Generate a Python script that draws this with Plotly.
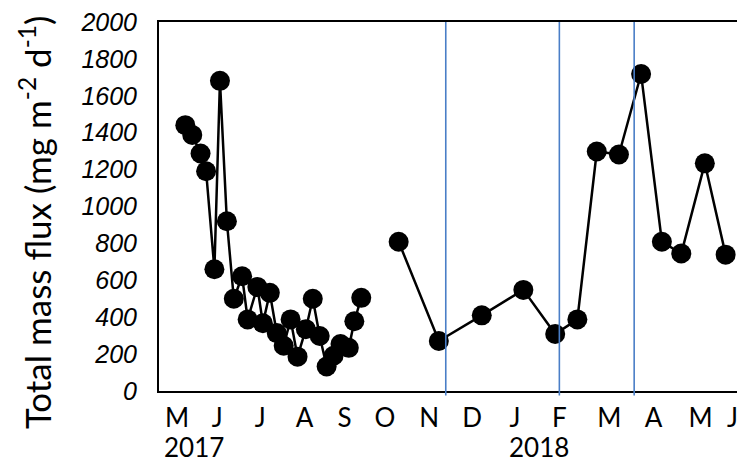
import plotly.graph_objects as go

# --- data ---
dates_2017 = ["2017-05-07", "2017-05-12", "2017-05-18", "2017-05-22", "2017-05-28",
              "2017-06-01", "2017-06-06", "2017-06-11", "2017-06-17", "2017-06-21",
              "2017-06-28", "2017-07-02", "2017-07-07", "2017-07-12", "2017-07-17",
              "2017-07-22", "2017-07-27", "2017-08-02", "2017-08-07", "2017-08-12",
              "2017-08-17", "2017-08-22", "2017-08-27", "2017-09-02", "2017-09-06",
              "2017-09-11"]
flux_2017 = [1441, 1388, 1287, 1191, 660,
             1681, 920, 500, 622, 388,
             564, 367, 532, 314, 245,
             388, 186, 335, 500, 298,
             133, 191, 255, 234, 378,
             505]

dates_1718 = ["2017-10-08", "2017-11-06", "2017-12-07", "2018-01-06", "2018-01-29",
              "2018-02-14", "2018-02-28", "2018-03-16", "2018-04-01", "2018-04-16",
              "2018-04-30", "2018-05-17", "2018-06-01"]
flux_1718 = [809, 271, 410, 548, 309,
             388, 1298, 1282, 1718, 809,
             745, 1234, 739]

month_tick_dates = ["2017-05-01", "2017-05-30", "2017-06-30", "2017-08-01", "2017-08-30",
                    "2017-09-28", "2017-10-30", "2017-11-30", "2017-12-31", "2018-02-01",
                    "2018-03-09", "2018-04-10", "2018-05-14", "2018-06-06"]
month_labels = ["M", "J", "J", "A", "S", "O", "N", "D", "J", "F", "M", "A", "M", "J"]

year_labels = ["2017", "2018"]
year_label_dates = ["2017-05-13", "2018-01-17"]

event_dates = ["2017-11-11", "2018-02-01", "2018-03-27"]

y_ticks = list(range(0, 2001, 200))

fig = go.Figure()

for xs, ys in [(dates_2017, flux_2017), (dates_1718, flux_1718)]:
    fig.add_trace(go.Scatter(
        x=xs, y=ys, mode="lines+markers",
        line=dict(color="black", width=2.5),
        marker=dict(color="black", size=20, line=dict(width=0)),
        showlegend=False, cliponaxis=False,
    ))

for d in event_dates:
    fig.add_shape(type="line", xref="x", yref="paper", x0=d, x1=d, y0=-0.012, y1=1,
                  line=dict(color="#4A7EC7", width=1.6), layer="above")

for lab, d in zip(year_labels, year_label_dates):
    fig.add_annotation(text=lab, x=d, xref="x", y=-0.152, yref="paper",
                       showarrow=False, xanchor="center", yanchor="middle",
                       font=dict(family="Lato, Carlito, sans-serif", size=26, color="black"))

fig.add_annotation(text="Total mass flux (mg m<sup>-2</sup> d<sup>-1</sup>)",
                   x=0, xref="paper", xshift=-124, y=0.455, yref="paper",
                   textangle=-90, showarrow=False, xanchor="center", yanchor="middle",
                   font=dict(family="Lato, Carlito, sans-serif", size=35, color="black"))

# page body has an 8px margin, so the figure is sized/offset to compensate
fig.update_layout(
    width=737, height=457,
    margin=dict(l=151, r=0, t=7, b=74),
    plot_bgcolor="white", paper_bgcolor="white",
    xaxis=dict(
        type="date", range=["2017-04-18", "2018-06-15"],
        tickmode="array", tickvals=month_tick_dates, ticktext=month_labels,
        showgrid=False, zeroline=False, showline=True, linecolor="black",
        linewidth=2, mirror=True, ticks="", ticklabelstandoff=3,
        ticklabeloverflow="allow",
        tickfont=dict(family="Lato, Carlito, sans-serif", size=26, color="black"),
    ),
    yaxis=dict(
        range=[0, 2000], tickmode="array", tickvals=y_ticks,
        showgrid=False, zeroline=False, showline=True, linecolor="black",
        linewidth=2, ticks="", ticklabelstandoff=15, ticklabeloverflow="allow",
        tickfont=dict(family="Liberation Sans, Arial, sans-serif", size=25,
                      color="black", style="italic"),
    ),
)

fig.write_html("out.html")
